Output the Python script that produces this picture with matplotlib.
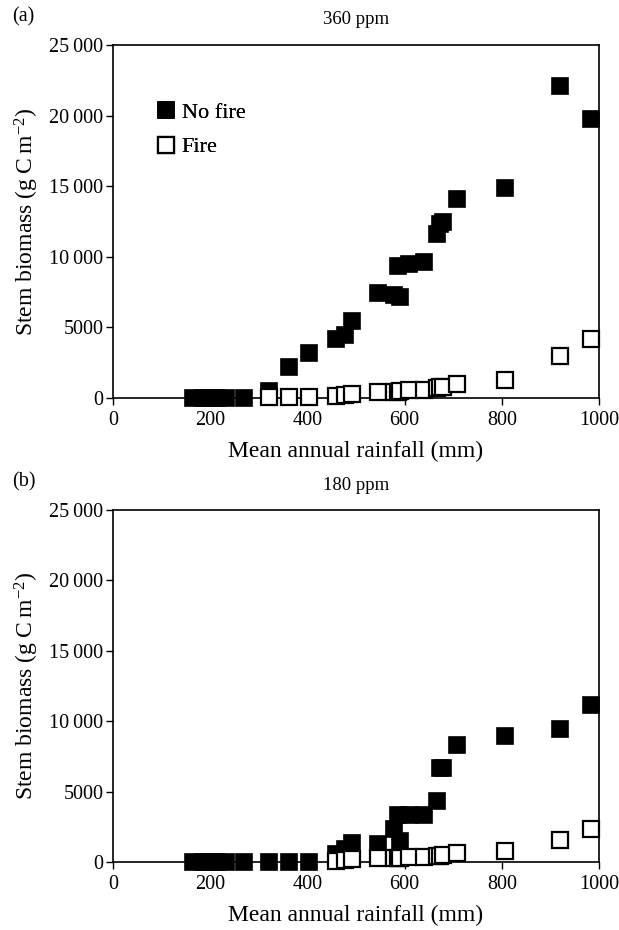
import matplotlib
matplotlib.use("Agg")
import matplotlib.pyplot as plt
from matplotlib.ticker import FixedLocator

nan = float('nan')
plt.rcParams['font.family'] = ['Liberation Serif', 'DejaVu Serif']
plt.rcParams['mathtext.fontset'] = 'custom'
plt.rcParams['mathtext.rm'] = 'Liberation Serif'
plt.rcParams['mathtext.it'] = 'Liberation Serif:italic'
plt.rcParams['mathtext.default'] = 'regular'

rainfall = [165, 185, 200, 215, 232, 270, 320, 363, 404, 458, 478, 491, 545,
            578, 586, 590, 610, 639, 666, 672, 678, 708, 806, 920, 983]

nofire_360 = [0, 0, 0, 0, 0, 0, 515, 2170, 3160, 4170, 4450, 5440, 7420,
              7300, 9350, 7150, 9460, 9600, 11580, 12300, 12450, 14120, 14880, 22100, 19750]
fire_360 = [nan, nan, nan, nan, nan, nan, 50, 80, 100, 150, 200, 250, 450,
            400, 450, 500, 550, 600, 700, 750, 800, 990, 1290, 2990, 4170]

nofire_180 = [0, 0, 0, 0, 0, 0, 0, 0, 0, 546, 900, 1375, 1254,
              2318, 3310, 1490, 3350, 3350, 4324, 6650, 6700, 8290, 8980, 9477, 11180]
fire_180 = [nan, nan, nan, nan, nan, nan, nan, nan, nan, 100, 150, 200, 250,
            250, 300, 280, 320, 350, 400, 430, 475, 620, 780, 1560, 2320]

panels = ["(a)", "(b)"]
titles = ["360 ppm", "180 ppm"]
series_nofire = [nofire_360, nofire_180]
series_fire = [fire_360, fire_180]
yticks = [0, 5000, 10000, 15000, 20000, 25000]
ytick_labels = ["0", "5000", "10\u2009000", "15\u2009000", "20\u2009000", "25\u2009000"]
xticks = [0, 200, 400, 600, 800, 1000]
xtick_labels = ["0", "200", "400", "600", "800", "1000"]

W, H = 619, 930
fig = plt.figure(figsize=(W / 100, H / 100), dpi=100)

boxes = [(113, 45, 599, 398), (113, 510, 599, 862)]
for i, (l, t, r, b) in enumerate(boxes):
    aw, ah = r - l, b - t
    ax = fig.add_axes([l / W, 1 - b / H, aw / W, ah / H])
    ax.plot(rainfall, series_nofire[i], 's', ms=11.5, mfc='black', mec='black',
            mew=1.2, clip_on=False, zorder=3, label='No fire', linestyle='none')
    ax.plot(rainfall, series_fire[i], 's', ms=11, mfc='white', mec='black',
            mew=1.6, clip_on=False, zorder=4, label='Fire', linestyle='none')
    ax.set_xlim(0, 1000)
    ax.set_ylim(0, 25000)
    ax.xaxis.set_major_locator(FixedLocator(xticks))
    ax.set_xticklabels(xtick_labels)
    ax.yaxis.set_major_locator(FixedLocator(yticks))
    ax.set_yticklabels(ytick_labels)
    ax.tick_params(direction='out', length=5, width=1, labelsize=14.5, pad=2)
    ax.tick_params(axis='x', pad=4)
    for s in ax.spines.values():
        s.set_linewidth(1.2)
    ax.set_xlabel("Mean annual rainfall (mm)", fontsize=17, va='center')
    ax.xaxis.set_label_coords(0.5, -53 / ah)
    ax.set_ylabel("Stem biomass (g\u2009C\u2009m$^{-2}$)", fontsize=17, va='center')
    ax.yaxis.set_label_coords((27 - l) / aw, 0.5)
    ax.set_title(titles[i], fontsize=13.5, pad=0, va='center', y=1 + 25 / ah)
    ax.legend(loc='center left', bbox_to_anchor=(0.083, (b - 130) / ah), frameon=False,
              fontsize=16, handletextpad=0.18, handlelength=1.1,
              labelspacing=0.62, borderaxespad=0, borderpad=0)
    fig.text(12 / W, 1 - (t - 28) / H, panels[i], fontsize=14.5, ha='left', va='center')

fig.savefig("out.png", dpi=100)
